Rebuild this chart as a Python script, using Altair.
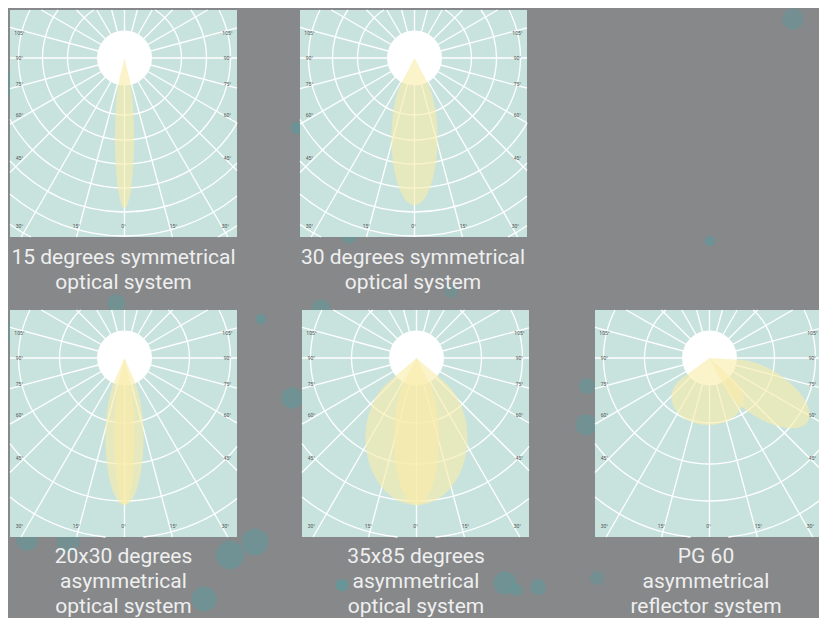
import math
import altair as alt
import pandas as pd

# ---------------- data ----------------
captions = [
    ["15 degrees symmetrical", "optical system"],
    ["30 degrees symmetrical", "optical system"],
    ["20x30 degrees", "asymmetrical", "optical system"],
    ["35x85 degrees", "asymmetrical", "optical system"],
    ["PG 60", "asymmetrical", "reflector system"],
]
side_labels = ["105°", "90°", "75°", "60°", "45°"]
bottom_labels = ["30°", "15°", "0°", "15°", "30°"]
grid_angles = list(range(0, 360, 15))          # radial grid lines, degrees from nadir
grid_radii = [
    [57, 82, 106, 130, 154, 178, 202, 226],
    [57, 82, 106, 130, 154, 178, 202, 226],
    [65, 106, 143, 180, 217],
    [65, 106, 143, 180, 217],
    [65, 106, 143, 180, 217],
]
# light lobes per panel: (direction deg from nadir, distance of widest point, reach, half width)
beams = [
    [(0, 80, 150, 9.5)],
    [(0, 80, 147, 23)],
    [(0, 80, 147, 10), (0, 80, 147, 19)],
    [(0, 80, 147, 22.5), (0, 80, 147, 51)],
    [(-3, 40, 67, 36), (57, 66, 117, 24)],
]
bubble_x = [793, 710, 261, 297, 349, 451, 116, 321, 0, 3, 27, 68, 230, 255, 204, 342, 505, 517, 538, 597, 292, 587, 586]
bubble_y = [19, 241, 319, 128, 236, 291, 303, 308, 84, 332, 540, 542, 555, 542, 599, 585, 583, 590, 587, 578, 398, 386, 425]
bubble_r = [12, 6, 6, 7, 9, 8, 10, 10, 16, 12, 12, 13, 16, 15, 14, 7, 13, 7, 9, 8, 12, 9, 12]
bubble_a = [0.45, 0.6, 0.6, 0.6, 0.5, 0.4, 0.5, 0.5, 0.6, 0.5, 0.5, 0.45, 0.55, 0.55, 0.55, 0.75, 0.55, 0.5, 0.55, 0.45, 0.55, 0.5, 0.5]

# ---------------- layout ----------------
W, H = 811, 610
panel_x = [10, 300, 10, 302, 595]
panel_y = [10, 10, 310, 310, 310]
PANEL = 227
CDX, CDY = 114.5, 48
HUB_R = 31
side_dy = [-25, 0, 26, 57, 100]
side_dx = 9.5
bottom_dx = [-105, -48, -1, 49, 101]
bottom_y = 216
caption_x = [123.5, 413, 123.5, 416, 706]
caption_y = [257.5, 257.5, 556.7, 556.7, 556.7]
caption_step = 25.2
LINE_W = 1.3


def arc_spans(cx, cy, r, L, T, R, B):
    two_pi = 2 * math.pi
    ts = [0.0, two_pi]
    for X in (L, R):
        v = (X - cx) / r
        if -1 < v < 1:
            a = math.asin(v)
            ts += [a % two_pi, (math.pi - a) % two_pi]
    for Y in (T, B):
        v = (cy - Y) / r
        if -1 < v < 1:
            a = math.acos(v)
            ts += [a, two_pi - a]
    ts.sort()
    spans = []
    for a, b in zip(ts[:-1], ts[1:]):
        if b - a < 1e-9:
            continue
        m = (a + b) / 2
        x = cx + r * math.sin(m)
        y = cy - r * math.cos(m)
        if L <= x <= R and T <= y <= B:
            if spans and abs(spans[-1][1] - a) < 1e-9:
                spans[-1][1] = b
            else:
                spans.append([a, b])
    return spans


def hull(pts):
    pts = sorted(set(pts))

    def cross(o, a, b):
        return (a[0] - o[0]) * (b[1] - o[1]) - (a[1] - o[1]) * (b[0] - o[0])

    lower, upper = [], []
    for p in pts:
        while len(lower) >= 2 and cross(lower[-2], lower[-1], p) <= 0:
            lower.pop()
        lower.append(p)
    for p in reversed(pts):
        while len(upper) >= 2 and cross(upper[-2], upper[-1], p) <= 0:
            upper.pop()
        upper.append(p)
    return lower[:-1] + upper[:-1]


panels, rings, rays, hubs, labels, beam_pts, caps = [], [], [], [], [], [], []
for i in range(5):
    L, T = panel_x[i], panel_y[i]
    R, B = L + PANEL, T + PANEL
    cx, cy = L + CDX, T + CDY
    panels.append(dict(x0=L, x1=R, y0=T, y1=B))
    hubs.append(dict(x=cx, y=cy, s=math.pi * HUB_R ** 2))
    for r in grid_radii[i]:
        for a, b in arc_spans(cx, cy, r, L, T, R, B):
            rings.append(dict(x=cx, y=cy, t0=a, t1=b, r0=r - LINE_W / 2, r1=r + LINE_W / 2))
    for ang in grid_angles:
        dx, dy = math.sin(math.radians(ang)), math.cos(math.radians(ang))
        ts = []
        if dx > 1e-9: ts.append((R - cx) / dx)
        if dx < -1e-9: ts.append((L - cx) / dx)
        if dy > 1e-9: ts.append((B - cy) / dy)
        if dy < -1e-9: ts.append((T - cy) / dy)
        t = min(ts)
        rays.append(dict(x0=cx, y0=cy, x1=cx + t * dx, y1=cy + t * dy))
    for k, lab in enumerate(side_labels):
        labels.append(dict(x=L + side_dx, y=cy + side_dy[k], t=lab))
        labels.append(dict(x=R - side_dx, y=cy + side_dy[k], t=lab))
    for k, lab in enumerate(bottom_labels):
        labels.append(dict(x=cx + bottom_dx[k], y=T + bottom_y, t=lab))
    for j, (d, c, reach, hw) in enumerate(beams[i]):
        a = reach - c
        ux, uy = math.sin(math.radians(d)), math.cos(math.radians(d))
        nx, ny = uy, -ux
        pts = [(0.0, 0.0)]
        for k in range(360):
            s = 2 * math.pi * k / 360
            px = c * ux + a * math.cos(s) * ux + hw * math.sin(s) * nx
            py = c * uy + a * math.cos(s) * uy + hw * math.sin(s) * ny
            pts.append((round(px, 3), round(py, 3)))
        for n, (px, py) in enumerate(hull(pts)):
            beam_pts.append(dict(x=cx + px, y=cy + py, o=n, g=f"{i}-{j}"))
    for k, line in enumerate(captions[i]):
        caps.append(dict(x=caption_x[i], y=caption_y[i] + k * caption_step, t=line))

bubbles = pd.DataFrame(dict(x=bubble_x, y=bubble_y,
                            s=[math.pi * r * r for r in bubble_r], a=bubble_a))

xs = alt.Scale(domain=[8, 8 + W], nice=False, zero=False)
ys = alt.Scale(domain=[8, 8 + H], nice=False, zero=False, reverse=True)


def X(f):
    return alt.X(f, type="quantitative", scale=xs, axis=None)


def Y(f):
    return alt.Y(f, type="quantitative", scale=ys, axis=None)


bubble_layer = alt.Chart(bubbles).mark_circle(color="#5e9a9c").encode(
    x=X("x"), y=Y("y"), size=alt.Size("s:Q", scale=None, legend=None),
    opacity=alt.Opacity("a:Q", scale=None, legend=None))

panel_layer = alt.Chart(pd.DataFrame(panels)).mark_rect(color="#c8e3de").encode(
    x=X("x0"), x2="x1", y=Y("y0"), y2="y1")

ring_layer = alt.Chart(pd.DataFrame(rings)).mark_arc(color="white").encode(
    x=X("x"), y=Y("y"),
    theta=alt.Theta("t0:Q", scale=None, stack=None), theta2="t1:Q",
    radius=alt.Radius("r1:Q", scale=None), radius2="r0:Q")

ray_layer = alt.Chart(pd.DataFrame(rays)).mark_rule(color="white", strokeWidth=LINE_W).encode(
    x=X("x0"), y=Y("y0"), x2="x1", y2="y1")

hub_layer = alt.Chart(pd.DataFrame(hubs)).mark_circle(color="white", opacity=1).encode(
    x=X("x"), y=Y("y"), size=alt.Size("s:Q", scale=None, legend=None))

label_layer = alt.Chart(pd.DataFrame(labels)).mark_text(
    font="Roboto", fontSize=5, color="#555555", align="center", baseline="middle").encode(
    x=X("x"), y=Y("y"), text="t:N")

beam_layer = alt.Chart(pd.DataFrame(beam_pts)).mark_line(
    fill="#f8ecaa", fillOpacity=0.62, stroke="#f8ecaa", strokeOpacity=0, strokeWidth=0,
    interpolate="linear-closed").encode(
    x=X("x"), y=Y("y"), order="o:Q", detail="g:N")

caption_layer = alt.Chart(pd.DataFrame(caps)).mark_text(
    font="Roboto", fontSize=21, color="#efefef", align="center", baseline="middle").encode(
    x=X("x"), y=Y("y"), text="t:N")

chart = alt.layer(
    bubble_layer, panel_layer, ring_layer, ray_layer, hub_layer, label_layer, beam_layer, caption_layer
).properties(
    width=W, height=H, background="#86888a", padding=0,
    autosize=alt.AutoSizeParams(type="none"),
).configure_view(strokeWidth=0)

chart.save("out.html", embed_options={"renderer": "svg", "actions": False})
